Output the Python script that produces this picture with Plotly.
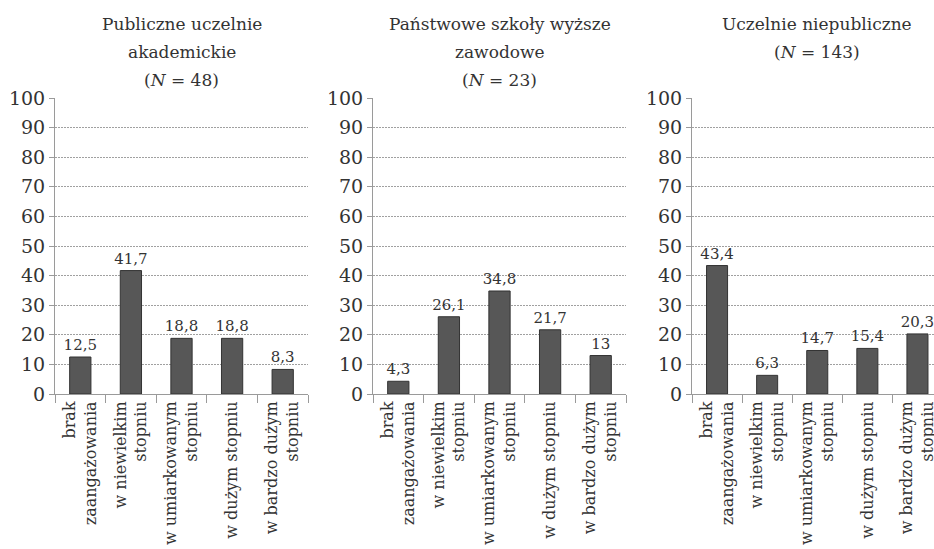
import plotly.graph_objects as go

categories = ["brak<br>zaangażowania", "w niewielkim<br>stopniu",
              "w umiarkowanym<br>stopniu", "w dużym stopniu",
              "w bardzo dużym<br>stopniu"]

titles = [
    ["Publiczne uczelnie", "akademickie", "(<i>N</i> = 48)"],
    ["Państwowe szkoły wyższe", "zawodowe", "(<i>N</i> = 23)"],
    ["Uczelnie niepubliczne", "(<i>N</i> = 143)"],
]

values_publiczne = [12.5, 41.7, 18.8, 18.8, 8.3]
values_pwsz = [4.3, 26.1, 34.8, 21.7, 13]
values_niepubliczne = [43.4, 6.3, 14.7, 15.4, 20.3]
series = [values_publiczne, values_pwsz, values_niepubliczne]

y_ticks = list(range(0, 101, 10))

W, H = 934, 549
FONT = "DejaVu Serif"
TXT = "#333333"
AX = "#9a9a9a"

# panel pixel geometry
panel_left = [55, 373, 692]
panel_w = [253, 253, 250.5]
y_top_px, y_bot_px = 98, 394

fig = go.Figure()
for i, vals in enumerate(series):
    n = "" if i == 0 else str(i + 1)
    fig.add_trace(go.Bar(
        x=list(range(5)), y=vals,
        xaxis="x" + n, yaxis="y" + n,
        width=0.42,
        marker=dict(color="#575757", line=dict(color="#333333", width=1)),
        text=[f"{v:g}".replace(".", ",") for v in vals],
        textposition="outside",
        constraintext="none",
        textfont=dict(family=FONT, size=15, color=TXT),
        cliponaxis=False,
        showlegend=False,
        hoverinfo="skip",
    ))

layout = dict(
    width=W, height=H, autosize=False,
    margin=dict(l=0, r=0, t=0, b=0, pad=0),
    plot_bgcolor="white", paper_bgcolor="white",
    font=dict(family=FONT, color=TXT),
    annotations=[],
)

ydom = [(H - y_bot_px) / H, (H - y_top_px) / H]
for i in range(3):
    n = "" if i == 0 else str(i + 1)
    left = panel_left[i]
    cat_w = panel_w[i] / 5
    right_full = left + panel_w[i]
    right = min(right_full, W)
    xmax = (right - left) / cat_w - 0.5
    layout["xaxis" + n] = dict(
        domain=[left / W, right / W],
        range=[-0.5, xmax],
        anchor="y" + n,
        automargin=False,
        tickmode="array",
        tickvals=list(range(5)),
        ticktext=categories,
        tickangle=-90,
        ticks="",
        ticklabeloverflow="allow",
        tickfont=dict(family=FONT, size=16, color=TXT),
        showline=True, linecolor=AX, linewidth=1,
        showgrid=False, zeroline=False,
        minor=dict(tickmode="array", tickvals=[k - 0.5 for k in range(6)],
                   ticks="outside", ticklen=8, tickcolor=AX, tickwidth=1,
                   showgrid=False),
        fixedrange=True,
    )
    layout["yaxis" + n] = dict(
        domain=ydom,
        range=[0, 100],
        anchor="x" + n,
        automargin=False,
        tickmode="array",
        tickvals=y_ticks,
        ticks="outside", ticklen=5, tickcolor=AX,
        ticklabeloverflow="allow",
        tickfont=dict(family=FONT, size=19, color=TXT),
        showline=True, linecolor=AX, linewidth=1,
        showgrid=True, gridcolor="#a0a0a0", gridwidth=1, griddash="2px,1px",
        zeroline=False,
        fixedrange=True,
    )
    cx = (left + right_full) / 2 / W
    for j, line in enumerate(titles[i]):
        ypx = 24 + 28 * j
        layout["annotations"].append(dict(
            text=line, x=cx, y=1 - ypx / H, xref="paper", yref="paper",
            xanchor="center", yanchor="middle", showarrow=False,
            font=dict(family=FONT, size=17, color=TXT),
        ))

fig.update_layout(**layout)
fig.write_html(
    "out.html",
    config={"displayModeBar": False},
    post_script="document.body.style.margin='0';document.body.style.overflow='hidden';",
)
